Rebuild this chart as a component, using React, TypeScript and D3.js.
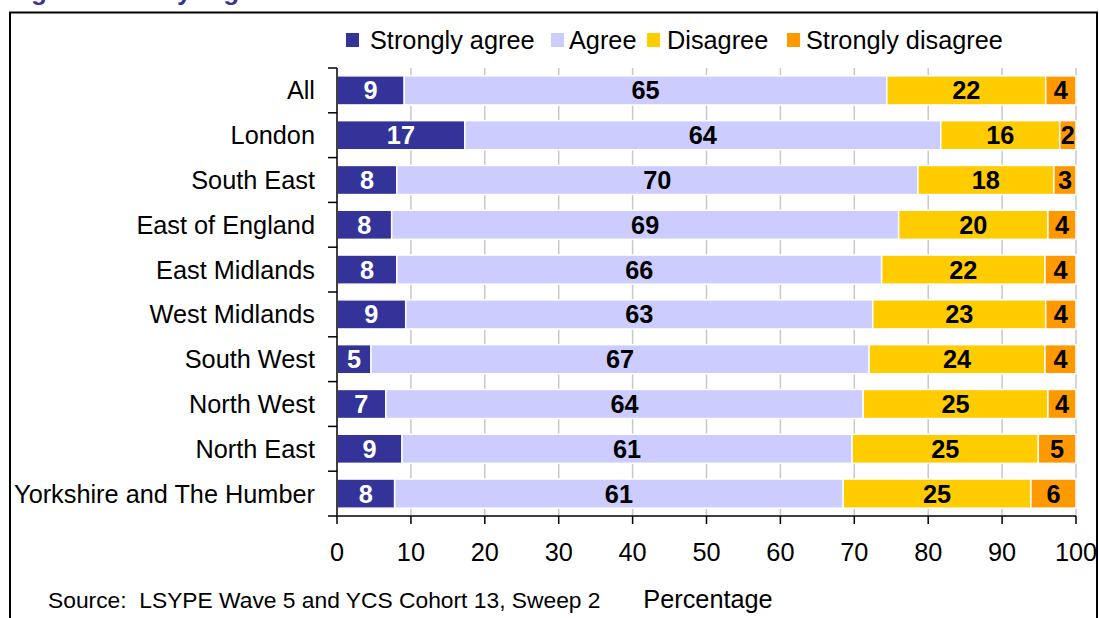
import React from "react";
import * as d3 from "d3";

const regions = [
  "All",
  "London",
  "South East",
  "East of England",
  "East Midlands",
  "West Midlands",
  "South West",
  "North West",
  "North East",
  "Yorkshire and The Humber",
];
const seriesNames = ["Strongly agree", "Agree", "Disagree", "Strongly disagree"];
const stronglyAgree = [9.1, 17.3, 8.1, 7.4, 8.1, 9.3, 4.6, 6.6, 8.8, 7.8];
const agree = [65.3, 64.4, 70.5, 68.6, 65.6, 63.2, 67.4, 64.6, 60.9, 60.7];
const disagree = [21.5, 16.1, 18.4, 20.2, 22.1, 23.4, 23.8, 25.0, 25.2, 25.4];
const stronglyDisagree = [4.1, 2.2, 3.0, 3.8, 4.2, 4.1, 4.2, 3.8, 5.1, 6.1];
const labelSA = [9, 17, 8, 8, 8, 9, 5, 7, 9, 8];
const labelA = [65, 64, 70, 69, 66, 63, 67, 64, 61, 61];
const labelD = [22, 16, 18, 20, 22, 23, 24, 25, 25, 25];
const labelSD = [4, 2, 3, 4, 4, 4, 4, 4, 5, 6];
const xTicks = [0, 10, 20, 30, 40, 50, 60, 70, 80, 90, 100];

const colors = ["#333399", "#CCCCFF", "#FFCC00", "#FF9900"];
const textColors = ["#FFFFFF", "#000000", "#000000", "#000000"];

export default function App() {
  const W = 1099;
  const H = 618;
  const left = 337;
  const right = 1076;
  const top = 68;
  const bottom = 516;
  const font = "Arial, 'Liberation Sans', sans-serif";
  const fs = 25.3;

  const x = d3.scaleLinear().domain([0, 100]).range([left, right]);
  const y = d3.scaleBand().domain(regions).range([top, bottom]).paddingInner(0.35).paddingOuter(0.175);
  const band = d3.scaleBand().domain(regions).range([top, bottom]);

  const values = [stronglyAgree, agree, disagree, stronglyDisagree];
  const labels = [labelSA, labelA, labelD, labelSD];
  const table = regions.map((r, i) => {
    const row: any = { region: r };
    seriesNames.forEach((s, k) => (row[s] = values[k][i]));
    return row;
  });
  const stacked = d3.stack().keys(seriesNames)(table);

  const legendX = [346, 551, 647, 787];
  const legendTextX = [370, 569, 667, 806];

  return (
    <div style={{ position: "absolute", left: 0, top: 0, width: W, height: H, overflow: "hidden" }}>
      <svg width={W} height={H} style={{ display: "block", fontFamily: font }}>
        <rect x={0} y={0} width={W} height={H} fill="#fff" />
        <text x={8} y={0} fill="#333399" fontWeight="bold" fontSize={26}>
          Figure 5.12: by region
        </text>
        <rect x={10} y={12.5} width={1087} height={640} fill="none" stroke="#000" strokeWidth={2} />

        {/* legend */}
        {seriesNames.map((s, k) => (
          <g key={s}>
            <rect x={legendX[k]} y={33} width={13} height={14} fill={colors[k]} />
            <text x={legendTextX[k]} y={49} fontSize={fs} fill="#000">
              {s}
            </text>
          </g>
        ))}

        {/* gridlines */}
        {xTicks.slice(1).map((t) => (
          <line key={t} x1={x(t)} x2={x(t)} y1={top} y2={bottom} stroke="#C8C8C8" strokeWidth={1.5} />
        ))}

        {/* bars */}
        {stacked.map((series, k) =>
          series.map((d, i) => (
            <rect
              key={k + "-" + i}
              x={x(d[0])}
              y={y(regions[i])!}
              width={x(d[1]) - x(d[0])}
              height={y.bandwidth()}
              fill={colors[k]}
              stroke="#fff"
              strokeWidth={1.5}
            />
          ))
        )}
        {stacked.map((series, k) =>
          series.map((d, i) => (
            <text
              key={"t" + k + "-" + i}
              x={(x(d[0]) + x(d[1])) / 2}
              y={y(regions[i])! + y.bandwidth() / 2 + 9}
              textAnchor="middle"
              fontWeight="bold"
              fontSize={fs}
              fill={textColors[k]}
            >
              {labels[k][i]}
            </text>
          ))
        )}

        {/* y axis */}
        <line x1={left} x2={left} y1={top} y2={bottom} stroke="#404040" strokeWidth={2} />
        {regions.concat(["_end"]).map((r, i) => {
          const yy = i < regions.length ? band(r)! : bottom;
          return <line key={"yt" + i} x1={left - 9} x2={left} y1={yy} y2={yy} stroke="#000" strokeWidth={1.5} />;
        })}
        {regions.map((r) => (
          <text key={r} x={315} y={y(r)! + y.bandwidth() / 2 + 9} textAnchor="end" fontSize={fs} fill="#000">
            {r}
          </text>
        ))}

        {/* x axis */}
        <line x1={left} x2={right} y1={bottom} y2={bottom} stroke="#404040" strokeWidth={2} />
        {xTicks.map((t) => (
          <g key={"xt" + t}>
            <line x1={x(t)} x2={x(t)} y1={bottom} y2={bottom + 8} stroke="#000" strokeWidth={1.5} />
            <text x={x(t)} y={561} textAnchor="middle" fontSize={fs} fill="#000">
              {t}
            </text>
          </g>
        ))}

        <text x={48} y={608} fontSize={22.8} fill="#000">
          Source:{"\u00a0\u00a0"}LSYPE Wave 5 and YCS Cohort 13, Sweep 2
        </text>
        <text x={708} y={608} textAnchor="middle" fontSize={fs} fill="#000">
          Percentage
        </text>
      </svg>
    </div>
  );
}
